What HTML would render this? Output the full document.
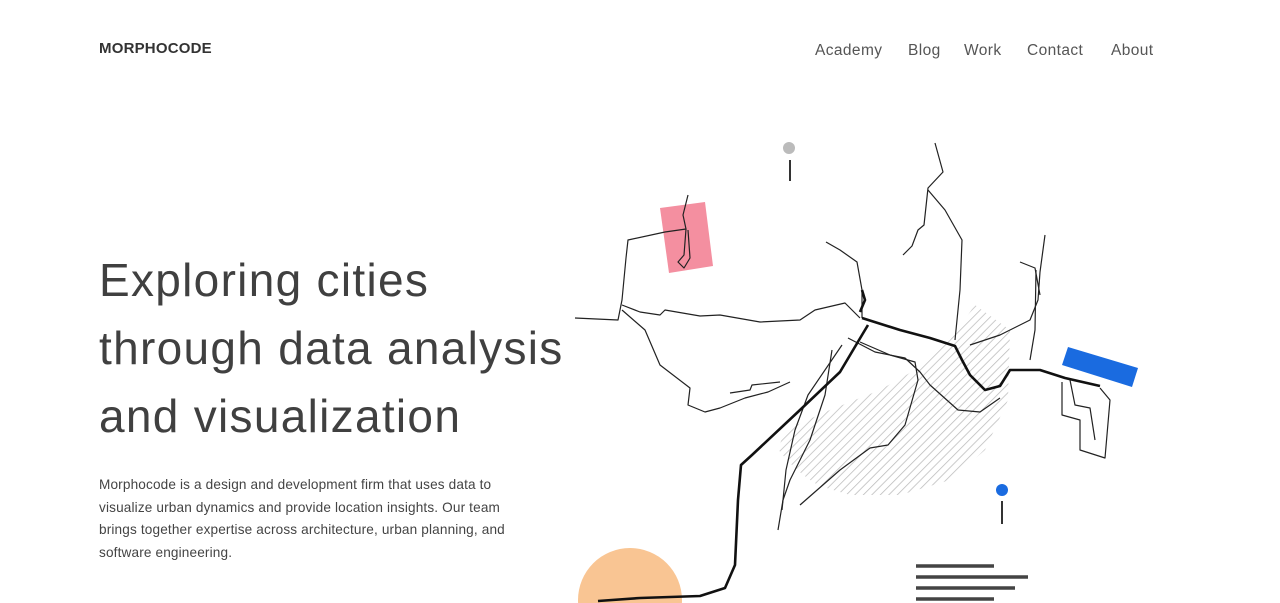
<!DOCTYPE html>
<html><head><meta charset="utf-8">
<style>
html,body{margin:0;padding:0;background:#fff;width:1280px;height:603px;overflow:hidden;font-family:"Liberation Sans",sans-serif;}
.logo{position:absolute;left:99px;top:40px;font-size:15px;font-weight:bold;color:#333;letter-spacing:0.2px;}
.nav a{position:absolute;top:42px;font-size:15.5px;color:#555;text-decoration:none;letter-spacing:0.4px;}
h1{position:absolute;left:99px;top:246px;margin:0;font-size:46px;font-weight:normal;line-height:68px;color:#404040;letter-spacing:1.3px;white-space:nowrap;}
p{position:absolute;left:99px;top:474px;margin:0;width:430px;font-size:13.6px;line-height:22.7px;color:#444;letter-spacing:0.15px;}
svg{position:absolute;left:0;top:0;}
</style></head><body>
<div class="logo">MORPHOCODE</div>
<nav class="nav">
<a style="left:815px">Academy</a>
<a style="left:908px">Blog</a>
<a style="left:964px">Work</a>
<a style="left:1027px">Contact</a>
<a style="left:1111px">About</a>
</nav>
<h1>Exploring cities<br>through data analysis<br>and visualization</h1>
<p>Morphocode is a design and development firm that uses data to visualize urban dynamics and provide location insights. Our team brings together expertise across architecture, urban planning, and software engineering.</p>
<svg width="1280" height="603">
<defs>
<pattern id="hatch" width="6" height="6" patternUnits="userSpaceOnUse" patternTransform="rotate(45)">
<line x1="0" y1="0" x2="0" y2="6" stroke="#bbb" stroke-width="1.5"/></pattern>
<clipPath id="hc"><path d="M975,305 L1010,330 L1008,400 L985,450 L950,480 L900,495 L850,495 L800,480 L776,455 L785,430 L830,410 L880,390 L915,370 L950,340 Z"/></clipPath>
</defs>
<circle cx="890" cy="365" r="140" fill="url(#hatch)" clip-path="url(#hc)"/>
<circle cx="630" cy="600" r="52" fill="#f9c593"/>
<polygon points="660,208 705,202 713,266 669,273" fill="#f48fa0"/>
<polygon points="1068,347 1138,368 1132,387 1062,365" fill="#1a6be0"/>
<circle cx="789" cy="148" r="6" fill="#bbb"/>
<line x1="790" y1="160" x2="790" y2="181" stroke="#333" stroke-width="2"/>
<circle cx="1002" cy="490" r="6" fill="#1a6be0"/>
<line x1="1002" y1="501" x2="1002" y2="524" stroke="#333" stroke-width="2"/>
<g stroke="#444" stroke-width="3.5">
<line x1="916" y1="566" x2="994" y2="566"/><line x1="916" y1="577" x2="1028" y2="577"/>
<line x1="916" y1="588" x2="1015" y2="588"/><line x1="916" y1="599" x2="994" y2="599"/></g>
<g fill="none" stroke="#222" stroke-width="1.2" stroke-linejoin="round">
<polyline points="575,318 618,320 622,300 626,258 628,240 665,232 686,229 683,215 688,195"/>
<polyline points="686,229 684,255 678,262 684,268 690,258 688,230"/>
<polyline points="622,305 640,312 660,315 665,310 700,316 720,315 760,322 800,320 815,310 845,303 860,318"/>
<polyline points="622,310 645,330 660,365 690,388 688,405 705,412 720,408 745,398 768,392 790,382"/>
<polyline points="730,393 750,390 752,385 780,382"/>
<polyline points="935,143 943,172 928,188 924,225 918,230 912,246 903,255"/>
<polyline points="928,190 945,210 962,240 960,290 955,340"/>
<polyline points="1045,235 1040,272 1038,300 1030,320 1000,335 970,345"/>
<polyline points="1036,270 1035,330 1030,360"/>
<polyline points="826,242 840,250 857,262 862,290 862,318"/>
<polyline points="832,350 825,395 810,440 790,480 783,500 778,530"/>
<polyline points="842,345 808,395 795,430 786,470 782,510"/>
<polyline points="848,338 875,352 905,358 920,372 930,385 958,410 980,412 1000,398"/>
<polyline points="860,342 890,355 915,362 918,380 905,425 888,445 870,448 840,470 800,505"/>
<polyline points="1062,382 1062,415 1080,420 1080,450 1105,458 1110,400 1100,388"/>
<polyline points="1070,380 1075,405 1090,408 1095,440"/>
<polyline points="1020,262 1035,268 1040,295"/>
</g>
<g fill="none" stroke="#111" stroke-width="2.6" stroke-linejoin="round">
<polyline points="598,601 640,598 700,596 725,588 735,565 738,500 741,465 752,455 800,410 840,372 862,335 868,325"/>
<polyline points="862,318 900,330 930,338 955,346 962,360 970,375 985,390 1000,386 1010,370 1040,370 1065,378 1100,386"/>
<polyline points="860,312 865,300 862,290"/>
</g>
</svg>
</body></html>
